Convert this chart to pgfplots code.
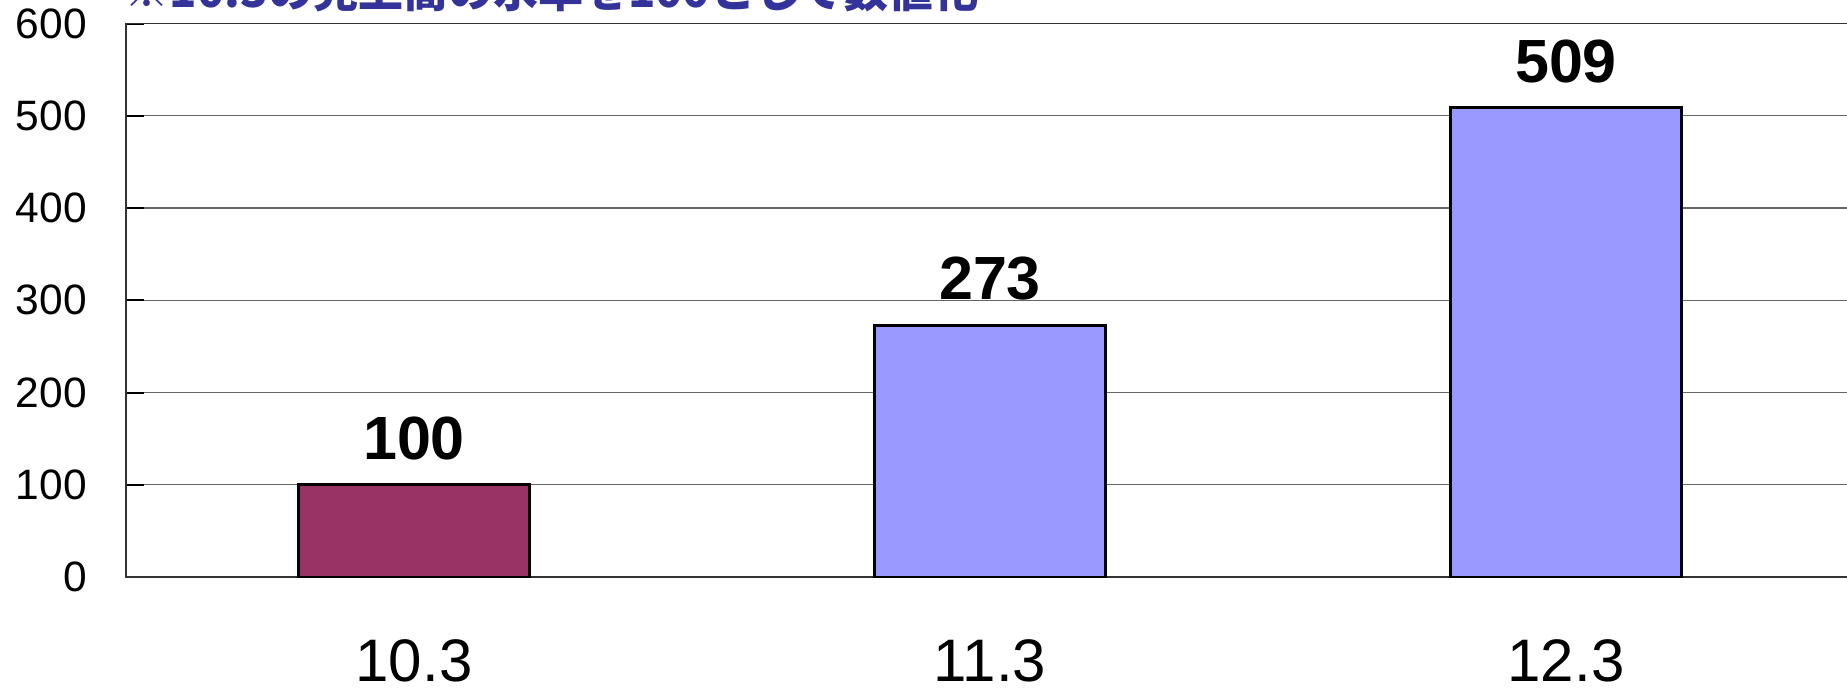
\documentclass[border=0pt]{standalone}
\usepackage{fontspec}
\setmainfont{Liberation Sans}
\newfontfamily\cjk{Noto Sans CJK JP}
\usepackage{pgfplots}
\pgfplotsset{compat=1.18}
\definecolor{plum}{HTML}{993366}
\definecolor{peri}{HTML}{9999FF}
\definecolor{titleblue}{HTML}{333399}
\begin{document}
\begin{tikzpicture}
\useasboundingbox (-50.4pt,-45.6pt) rectangle (688.4pt,230.8pt);
\begin{axis}[
  at={(0pt,0pt)}, anchor=south west,
  scale only axis, width=691.2pt, height=221.4pt,
  xmin=0, xmax=3, ymin=0, ymax=600,
  ytick={0,100,...,600},
  xtick={0.5,1.5,2.5}, xticklabels={10.3,11.3,12.3},
  minor xtick={1,2},
  xtick style={draw=none},
  tick align=inside,
  ytick pos=left, xtick pos=bottom,
  major tick length=7pt, minor tick length=7.6pt,
  ytick style={black, line width=0.8pt},
  minor tick style={black, line width=0.4pt},
  ymajorgrids, grid style={black!60, line width=0.5pt},
  axis line style={black!80, line width=0.6pt},
  /pgf/number format/assume math mode=true,
  yticklabel style={font=\fontsize{17}{17}\selectfont, anchor=east, inner sep=0pt, xshift=-15.5pt},
  xticklabel style={font=\fontsize{24}{24}\selectfont, anchor=north, inner sep=0pt, yshift=-25pt},
  nodes near coords style={font=\bfseries\fontsize{24.4}{24.4}\selectfont, anchor=south, inner sep=0pt, yshift=9.2pt, text=black},
]
\addplot[ybar, bar width=0.4, bar shift=0pt, fill=plum, draw=black, line width=1.2pt, nodes near coords]
  coordinates {(0.5,100)};
\addplot[ybar, bar width=0.4, bar shift=0pt, fill=peri, draw=black, line width=1.2pt, nodes near coords]
  coordinates {(1.5,273) (2.5,509)};
\end{axis}
\node[anchor=base west, inner sep=0pt, text=titleblue, font=\cjk\bfseries\fontsize{18}{18}\selectfont] at (-0.6pt,227.6pt) {※10.3の売上高の水準を100として数値化};
\end{tikzpicture}
\end{document}
